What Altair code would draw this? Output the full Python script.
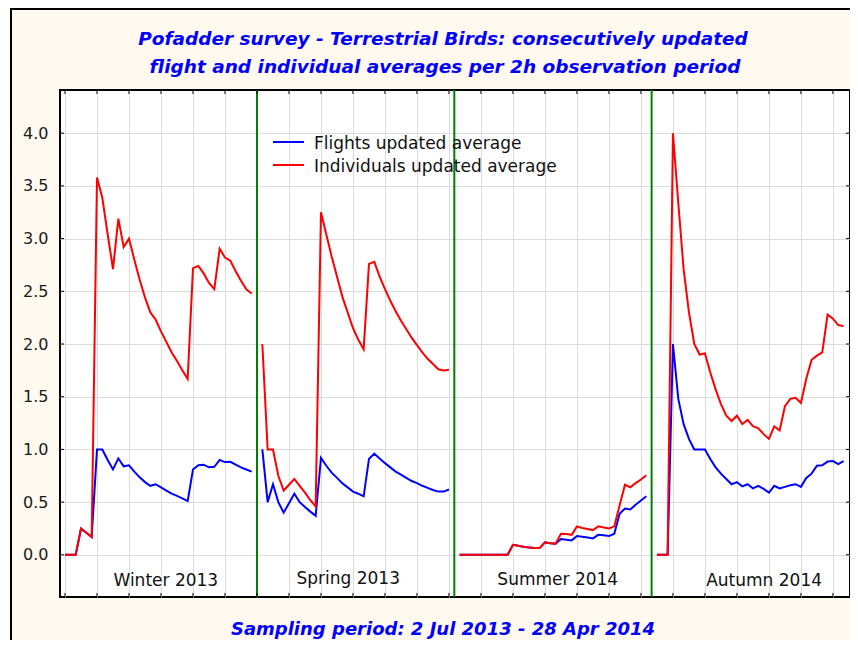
import altair as alt
import pandas as pd

# ---------------- data ----------------
SERIES = ["Flights updated average", "Individuals updated average"]
SERIES_COLORS = ["#0000FF", "#FF0000"]
SEASONS = ["Winter 2013", "Spring 2013", "Summer 2014", "Autumn 2014"]
SEASON_START = [0, 37, 74, 111]          # observation index of first period in each season
SEPARATORS = [36, 73, 110]               # green season separators
SEASON_LABEL_X = [18.9, 53.1, 92.4, 131.1]
SEASON_LABEL_Y = [-0.294, -0.275, -0.285, -0.294]
X_TICKS = list(range(0, 145, 6))
Y_TICKS = [0.0, 0.5, 1.0, 1.5, 2.0, 2.5, 3.0, 3.5, 4.0]

winter_flights = [0, 0, 0, 0.25, 0.21, 0.17, 1.0, 1.0, 0.90, 0.81, 0.915, 0.84,
                  0.85, 0.79, 0.735, 0.69, 0.655, 0.67, 0.64, 0.61, 0.58, 0.56, 0.535, 0.51,
                  0.81, 0.85, 0.855, 0.83, 0.835, 0.90, 0.88, 0.883, 0.855, 0.83, 0.81, 0.79]
winter_indiv = [0, 0, 0, 0.25, 0.21, 0.17, 3.58, 3.385, 3.04, 2.71, 3.19, 2.92,
                3.0, 2.80, 2.61, 2.44, 2.30, 2.23, 2.12, 2.02, 1.92, 1.84, 1.75, 1.67,
                2.72, 2.74, 2.67, 2.58, 2.52, 2.905, 2.82, 2.79, 2.69, 2.60, 2.52, 2.48]

spring_flights = [1.0, 0.50, 0.67, 0.50, 0.40, 0.49, 0.58, 0.50, 0.455, 0.41, 0.37, 0.92,
                  0.845, 0.78, 0.73, 0.68, 0.64, 0.60, 0.58, 0.555, 0.91, 0.96, 0.915, 0.87,
                  0.83, 0.79, 0.76, 0.73, 0.70, 0.68, 0.655, 0.635, 0.615, 0.60, 0.60, 0.62]
spring_indiv = [2.0, 1.0, 1.0, 0.75, 0.61, 0.665, 0.72, 0.655, 0.59, 0.52, 0.46, 3.25,
                3.04, 2.83, 2.64, 2.45, 2.30, 2.15, 2.04, 1.95, 2.76, 2.78, 2.64, 2.52,
                2.41, 2.31, 2.22, 2.14, 2.06, 1.99, 1.92, 1.86, 1.81, 1.76, 1.75, 1.755]

summer_flights = [0, 0, 0, 0, 0, 0, 0, 0, 0, 0,
                  0.095, 0.086, 0.076, 0.07, 0.064, 0.064, 0.118, 0.11, 0.105, 0.15, 0.143, 0.137,
                  0.178, 0.172, 0.165, 0.156, 0.19, 0.185, 0.178, 0.20, 0.39, 0.44, 0.43, 0.475,
                  0.515, 0.555]
summer_indiv = [0, 0, 0, 0, 0, 0, 0, 0, 0, 0,
                0.095, 0.086, 0.076, 0.07, 0.064, 0.064, 0.118, 0.11, 0.105, 0.20, 0.197, 0.19,
                0.27, 0.255, 0.245, 0.235, 0.27, 0.26, 0.25, 0.27, 0.47, 0.665, 0.64, 0.68,
                0.715, 0.755]

autumn_flights = [0, 0, 0, 2.0, 1.48, 1.24, 1.10, 1.0, 1.0, 1.0, 0.91, 0.83,
                  0.77, 0.72, 0.67, 0.69, 0.65, 0.67, 0.63, 0.655, 0.625, 0.59, 0.655, 0.63,
                  0.645, 0.66, 0.67, 0.645, 0.73, 0.77, 0.845, 0.85, 0.885, 0.89, 0.86, 0.89]
autumn_indiv = [0, 0, 0, 4.0, 3.34, 2.71, 2.30, 2.0, 1.90, 1.91, 1.73, 1.57,
                1.43, 1.32, 1.27, 1.32, 1.24, 1.28, 1.22, 1.20, 1.145, 1.10, 1.22, 1.18,
                1.41, 1.48, 1.49, 1.44, 1.67, 1.85, 1.89, 1.92, 2.28, 2.24, 2.18, 2.17]

flights = [winter_flights, spring_flights, summer_flights, autumn_flights]
indiv = [winter_indiv, spring_indiv, summer_indiv, autumn_indiv]

TITLE_1 = "Pofadder survey - Terrestrial Birds: consecutively updated"
TITLE_2 = "flight and individual averages per 2h observation period"
SUBTITLE = "Sampling period: 2 Jul 2013 - 28 Apr 2014"

# ---------------- tables ----------------
rows = []
for season, start, fl, iv in zip(SEASONS, SEASON_START, flights, indiv):
    for i, v in enumerate(fl):
        rows.append({"obs": start + i, "season": season, "series": SERIES[0], "value": v})
    for i, v in enumerate(iv):
        rows.append({"obs": start + i, "season": season, "series": SERIES[1], "value": v})
df = pd.DataFrame(rows)
sep_df = pd.DataFrame({"obs": SEPARATORS})
xt_df = pd.DataFrame({"obs": X_TICKS})
yt_df = pd.DataFrame({"value": Y_TICKS})
lab_df = pd.DataFrame({"obs": SEASON_LABEL_X, "value": SEASON_LABEL_Y, "season": SEASONS})
one = pd.DataFrame({"a": [0]})

# ---------------- layout ----------------
W, H = 790, 507
X_DOMAIN = [-0.94, 147.2]
Y_DOMAIN = [-0.4, 4.41]
FONT = "DejaVu Sans"
xs = alt.Scale(domain=X_DOMAIN, nice=False, zero=False)
ys = alt.Scale(domain=Y_DOMAIN, nice=False, zero=False)
cs = alt.Scale(domain=SERIES, range=SERIES_COLORS)
XAX = alt.Axis(values=X_TICKS, labels=False, ticks=False, tickSize=0, domain=False,
               grid=True, gridColor="#DCDCDC", gridWidth=1, title=None)
YAX = alt.Axis(values=Y_TICKS, format=".1f", ticks=False, tickSize=0, domain=False,
               grid=True, gridColor="#DCDCDC", gridWidth=1, labelFont=FONT,
               labelFontSize=16, labelColor="#1a1a1a", labelPadding=12, title=None)

def X(field="obs"):
    return alt.X(f"{field}:Q", scale=xs, axis=XAX)

def Y(field="value"):
    return alt.Y(f"{field}:Q", scale=ys, axis=YAX)

white_left = alt.Chart(one).mark_rect(color="white").encode(
    x=alt.value(-52), x2=alt.value(-49), y=alt.value(-82), y2=alt.value(H + 45))
white_top = alt.Chart(one).mark_rect(color="white").encode(
    x=alt.value(-52), x2=alt.value(W + 10), y=alt.value(-82), y2=alt.value(-81))
frame = alt.Chart(one).mark_rect(fillOpacity=0, stroke="black", strokeWidth=2).encode(
    x=alt.value(-49), x2=alt.value(W + 30), y=alt.value(-81), y2=alt.value(H + 80))

seps = alt.Chart(sep_df).mark_rule(color="#008000", strokeWidth=2).encode(x=X())

blue = alt.Chart(df[df.series == SERIES[0]]).mark_line(strokeWidth=2).encode(
    x=X(), y=Y(),
    color=alt.Color("series:N", scale=cs, legend=None),
    detail="season:N")
red = alt.Chart(df[df.series == SERIES[1]]).mark_line(strokeWidth=2).encode(
    x=X(), y=Y(),
    color=alt.Color("series:N", scale=cs, legend=None),
    detail="season:N")

tick_b = alt.Chart(xt_df).mark_rule(color="black", strokeWidth=1).encode(
    x=X(), y=alt.value(H - 4), y2=alt.value(H))
tick_t = alt.Chart(xt_df).mark_rule(color="black", strokeWidth=1).encode(
    x=X(), y=alt.value(0), y2=alt.value(4))
tick_l = alt.Chart(yt_df).mark_rule(color="black", strokeWidth=1).encode(
    y=Y(), x=alt.value(0), x2=alt.value(4))
tick_r = alt.Chart(yt_df).mark_rule(color="black", strokeWidth=1).encode(
    y=Y(), x=alt.value(W - 4), x2=alt.value(W))

labels = alt.Chart(lab_df).mark_text(font=FONT, fontSize=17, color="#111111",
                                     align="center", baseline="alphabetic").encode(
    x=X(), y=Y(), text="season:N")

def ttext(txt, x, y, size=18.5):
    return alt.Chart(one).mark_text(font=FONT, fontSize=size, fontWeight="bold",
                                    fontStyle="italic", color="#0000FF",
                                    align="center", baseline="alphabetic").encode(
        x=alt.value(x), y=alt.value(y), text=alt.value(txt))

t1 = ttext(TITLE_1, 383, -45)
t2 = ttext(TITLE_2, 385, -17.5)
sub = ttext(SUBTITLE, 383, 545, 18)

leg_layers = []
for i, (name, col) in enumerate(zip(SERIES, SERIES_COLORS)):
    yy = 52 + 23 * i
    leg_layers.append(alt.Chart(one).mark_rule(color=col, strokeWidth=2).encode(
        x=alt.value(213), x2=alt.value(244), y=alt.value(yy)))
    leg_layers.append(alt.Chart(one).mark_text(font=FONT, fontSize=17, color="#111111",
                                               align="left", baseline="alphabetic").encode(
        x=alt.value(254), y=alt.value(yy + 6.5), text=alt.value(name)))

chart = alt.layer(
    white_left, white_top, frame, seps, blue, red,
    tick_b, tick_t, tick_l, tick_r, labels, t1, t2, sub, *leg_layers
).properties(
    width=W, height=H,
    autosize=alt.AutoSizeParams(type="none"),
    padding={"left": 52, "top": 82, "right": 0, "bottom": 43},
    background="#FFF9EF",
).configure_view(stroke="black", strokeWidth=2, fill="white")

chart.save("out.html", embed_options={"renderer": "svg", "actions": False})
